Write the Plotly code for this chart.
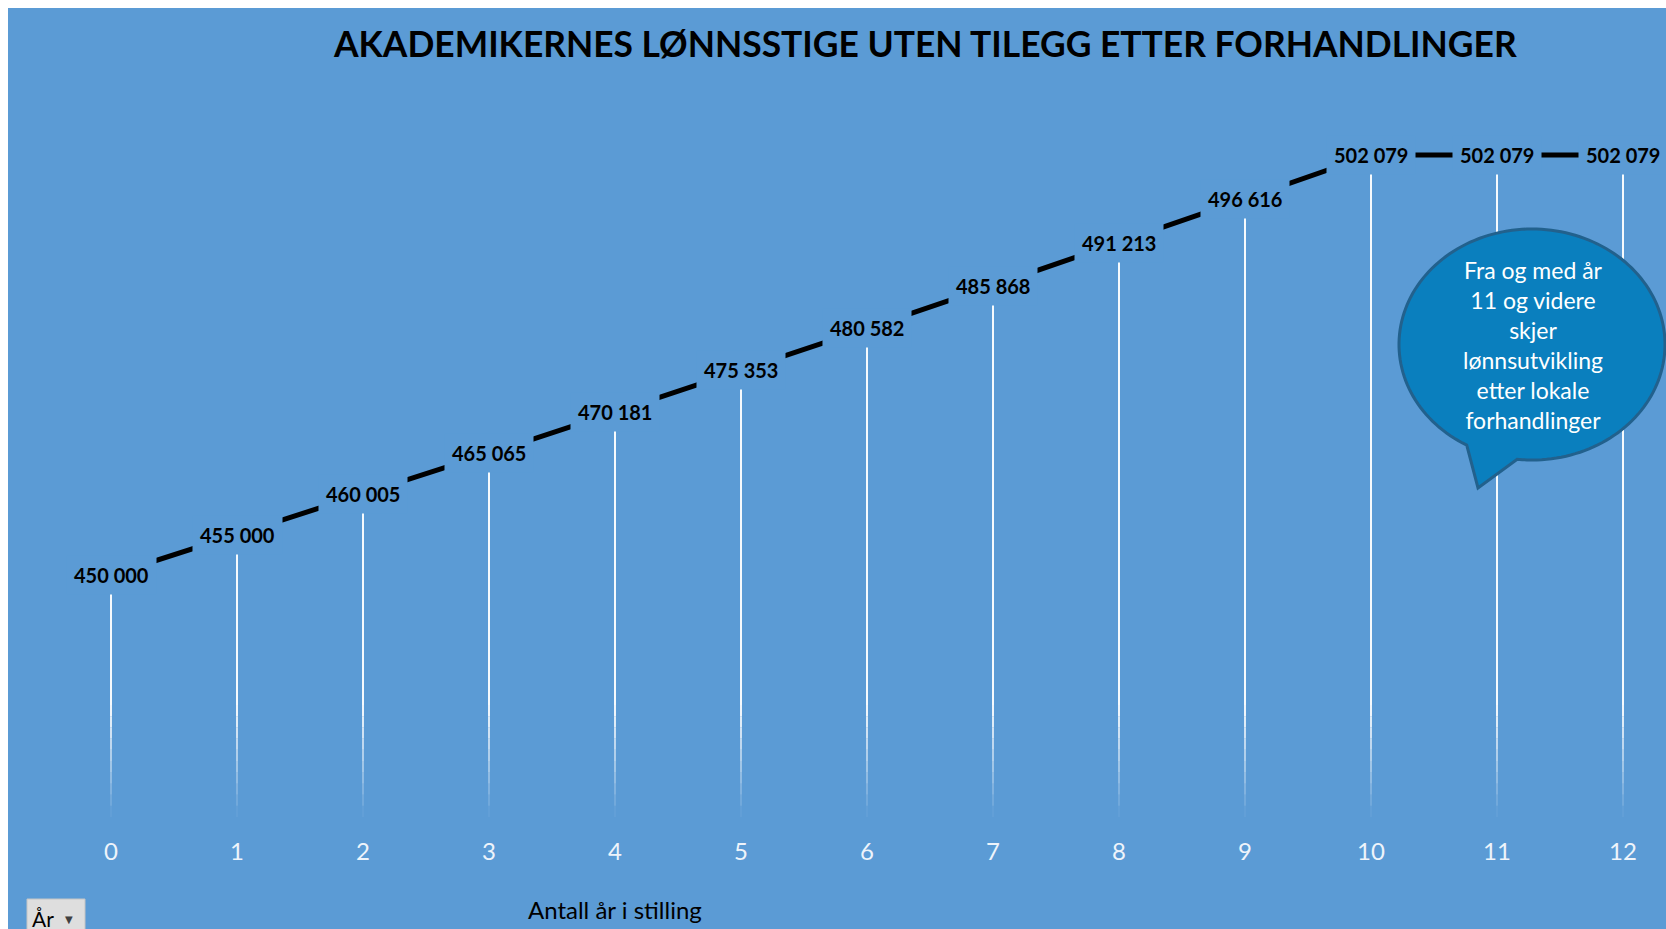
import numpy as np
import plotly.graph_objects as go

# ---- data ----
years = list(range(13))
year_labels = [str(y) for y in years]
salary = [450000, 455000, 460005, 465065, 470181, 475353, 480582,
          485868, 491213, 496616, 502079, 502079, 502079]

title_text = "AKADEMIKERNES LØNNSSTIGE UTEN TILEGG ETTER FORHANDLINGER"
xaxis_title = "Antall år i stilling"
bubble_lines = ["Fra og med år", "11 og videre", "skjer", "lønnsutvikling",
                "etter lokale", "forhandlinger"]

# ---- layout geometry (figure pixels; page adds an 8px body margin) ----
OFF = 8
W, H = 1666, 929
ML, MR, MT, MB = 40, 0, 83, 120
PW, PH = W - ML - MR, H - MT - MB
YMIN, YMAX = 420000, 510000
XMIN = -0.5
XMAX = 12 + (W - MR - (ML + 63 + 12 * 126)) / 126.0

BG = "#5B9BD5"
FONT = "Lato"


def pxx(px):  # screen x -> paper
    return (px - OFF - ML) / PW


def pxy(py):  # screen y -> paper
    return (H - MB - (py - OFF)) / PH


fig = go.Figure()

# drop lines (white, fading towards the bottom)
fade_top = YMIN + (YMAX - YMIN) * pxy(705)
levels = 10
edges = np.linspace(fade_top, YMIN, levels + 1)
xs, ys = [], []
for x, v in zip(years, salary):
    xs += [x, x, None]
    ys += [v, fade_top, None]
fig.add_trace(go.Scatter(x=xs, y=ys, mode="lines",
                         line=dict(color="rgba(255,255,255,0.95)", width=2),
                         hoverinfo="skip", showlegend=False))
for k in range(levels):
    a = 0.95 * (1 - (k + 0.5) / levels)
    xs, ys = [], []
    for x in years:
        xs += [x, x, None]
        ys += [edges[k], edges[k + 1], None]
    fig.add_trace(go.Scatter(x=xs, y=ys, mode="lines",
                             line=dict(color=f"rgba(255,255,255,{a:.3f})", width=2),
                             hoverinfo="skip", showlegend=False))

# main line
fig.add_trace(go.Scatter(x=years, y=salary, mode="lines",
                         line=dict(color="black", width=5),
                         showlegend=False))

annotations = []
for x, v in zip(years, salary):
    annotations.append(dict(
        x=x, y=v, xref="x", yref="y", showarrow=False,
        text=f"{v:,}".replace(",", " "),
        font=dict(family=FONT, size=20, color="black", weight="bold"),
        bgcolor=BG, borderpad=7, xanchor="center", yanchor="middle"))

# title
annotations.append(dict(
    x=pxx(924.5), y=pxy(43), xref="paper", yref="paper", showarrow=False,
    text=title_text, xanchor="center", yanchor="middle",
    font=dict(family=FONT, size=35.4, color="black", weight="bold")))

# x axis title
annotations.append(dict(
    x=pxx(614.5), y=pxy(909), xref="paper", yref="paper", showarrow=False,
    text=xaxis_title, xanchor="center", yanchor="middle",
    font=dict(family=FONT, size=24, color="black")))

# bubble text
annotations.append(dict(
    x=pxx(1533), y=pxy(345), xref="paper", yref="paper", showarrow=False,
    text="<br>".join(bubble_lines), xanchor="center", yanchor="middle",
    align="center", font=dict(family=FONT, size=23, color="white")))

# filter button text
annotations.append(dict(
    x=pxx(30), y=pxy(918), xref="paper", yref="paper", showarrow=False,
    text="År", xanchor="left", yanchor="middle",
    font=dict(family=FONT, size=21, color="black")))
annotations.append(dict(
    x=pxx(69), y=pxy(919), xref="paper", yref="paper", showarrow=False,
    text="▼", xanchor="center", yanchor="middle",
    font=dict(family="DejaVu Sans", size=10, color="#404040")))

shapes = []
# speech bubble: ellipse + tail as one path
cx, cy, rx, ry = 1532, 344.5, 133, 115.5
t1, t2 = np.deg2rad(119.4), np.deg2rad(96.4 + 360)
ts = np.linspace(t1, t2, 160)
pts = [(cx + rx * np.cos(t), cy + ry * np.sin(t)) for t in ts]
pts.append((1478, 488))
path = "M " + " L ".join(f"{pxx(px):.5f},{pxy(py):.5f}" for px, py in pts) + " Z"
shapes.append(dict(type="path", xref="paper", yref="paper", layer="above",
                   path=path, fillcolor="#0A7FBE",
                   line=dict(color="#22618D", width=3)))

# filter button box
shapes.append(dict(type="rect", xref="paper", yref="paper", layer="above",
                   x0=pxx(27), x1=pxx(85), y0=pxy(H + 10), y1=pxy(899),
                   fillcolor="#DEDEDE", line=dict(color="#C4C4C4", width=1)))

fig.update_layout(
    width=W, height=H, autosize=False,
    margin=dict(l=ML, r=MR, t=MT, b=MB, pad=0),
    paper_bgcolor=BG, plot_bgcolor="rgba(0,0,0,0)",
    showlegend=False,
    xaxis=dict(range=[XMIN, XMAX], tickmode="array", tickvals=years,
               ticktext=year_labels, showgrid=False, zeroline=False,
               showline=False, ticks="", ticklabelstandoff=18,
               tickfont=dict(family=FONT, size=24, color="#EEF4FB")),
    yaxis=dict(range=[YMIN, YMAX], visible=False, showgrid=False,
               zeroline=False),
    annotations=annotations, shapes=shapes,
)

fig.write_html(
    "out.html",
    post_script="document.documentElement.style.overflow='hidden';"
                "document.body.style.overflow='hidden';"
                "document.body.style.marginRight='0px';")
